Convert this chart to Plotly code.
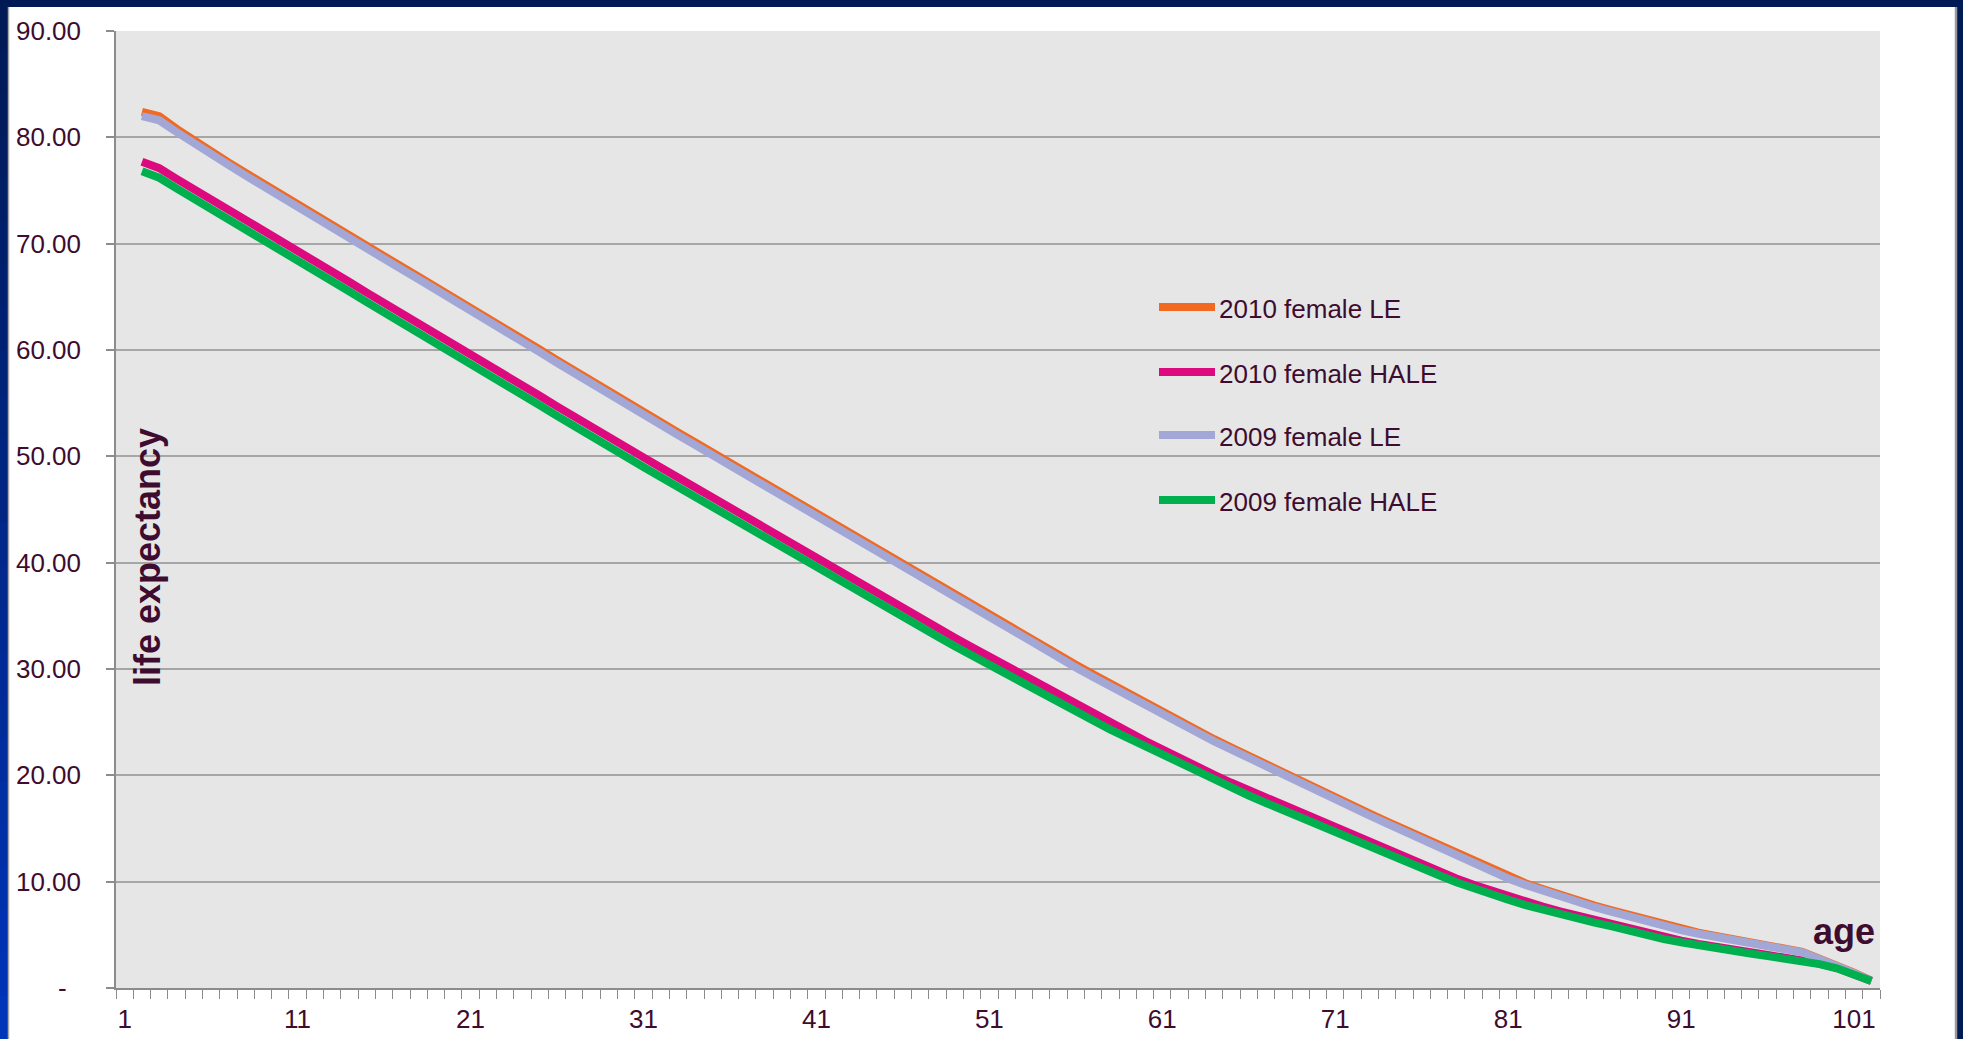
import plotly.graph_objects as go

# Age categories on the horizontal axis (labels 1..102); the series start at category 2
CATEGORIES = list(range(1, 103))
X_TICK_LABELS = [1, 11, 21, 31, 41, 51, 61, 71, 81, 91, 101]

Y_TICKS = [0, 10, 20, 30, 40, 50, 60, 70, 80, 90]
Y_TICK_TEXT = ["-\u00a0\u00a0", "10.00", "20.00", "30.00", "40.00", "50.00",
               "60.00", "70.00", "80.00", "90.00"]

SERIES_NAMES = ["2010 female LE", "2010 female HALE", "2009 female LE", "2009 female HALE"]
SERIES_COLORS = ["#F26A21", "#DC0A7E", "#A2A7D6", "#00B04F"]

LE_2010 = [
    82.4, 82.0, 80.8, 79.7, 78.65, 77.65, 76.65, 75.65, 74.7, 73.7,
    72.7, 71.75, 70.75, 69.8, 68.85, 67.85, 66.9, 65.95, 65.0, 64.05,
    63.05, 62.05, 61.05, 60.05, 59.05, 58.05, 57.05, 56.1, 55.15, 54.2,
    53.25, 52.25, 51.3, 50.35, 49.35, 48.4, 47.4, 46.45, 45.45, 44.5,
    43.55, 42.55, 41.6, 40.65, 39.7, 38.75, 37.8, 36.85, 35.9, 34.95,
    34.0, 33.1, 32.2, 31.3, 30.4, 29.5, 28.6, 27.7, 26.85, 26.0,
    25.1, 24.25, 23.4, 22.6, 21.8, 21.0, 20.2, 19.45, 18.7, 17.9,
    17.15, 16.4, 15.65, 14.9, 14.15, 13.4, 12.65, 11.9, 11.15, 10.45,
    9.85, 9.3, 8.75, 8.25, 7.75, 7.3, 6.85, 6.4, 5.95, 5.55,
    5.2, 4.9, 4.6, 4.3, 4.0, 3.75, 3.4, 2.75, 2.15, 1.45,
    0.7,
]

HALE_2010 = [
    77.7, 77.1, 76.1, 75.15, 74.2, 73.2, 72.2, 71.25, 70.3, 69.3,
    68.35, 67.4, 66.4, 65.4, 64.45, 63.5, 62.5, 61.55, 60.6, 59.6,
    58.65, 57.7, 56.7, 55.7, 54.7, 53.7, 52.75, 51.8, 50.85, 49.9,
    48.95, 48.0, 47.05, 46.1, 45.15, 44.2, 43.25, 42.3, 41.35, 40.4,
    39.4, 38.45, 37.5, 36.6, 35.7, 34.8, 33.9, 32.95, 32.05, 31.15,
    30.25, 29.35, 28.45, 27.6, 26.7, 25.8, 24.95, 24.1, 23.25, 22.45,
    21.6, 20.8, 20.05, 19.3, 18.6, 17.9, 17.2, 16.45, 15.75, 15.05,
    14.4, 13.75, 13.1, 12.4, 11.7, 11.0, 10.3, 9.7, 9.15, 8.6,
    8.1, 7.65, 7.2, 6.8, 6.4, 6.0, 5.55, 5.15, 4.75, 4.45,
    4.15, 3.85, 3.6, 3.35, 3.1, 2.85, 2.6, 2.3, 1.9, 1.3,
    0.65,
]

LE_2009 = [
    82.0, 81.6, 80.5, 79.4, 78.4, 77.4, 76.4, 75.4, 74.45, 73.45,
    72.45, 71.5, 70.5, 69.55, 68.6, 67.6, 66.65, 65.7, 64.75, 63.8,
    62.8, 61.8, 60.8, 59.8, 58.8, 57.8, 56.8, 55.85, 54.9, 53.95,
    53.0, 52.0, 51.05, 50.1, 49.1, 48.15, 47.15, 46.2, 45.2, 44.25,
    43.3, 42.3, 41.35, 40.4, 39.45, 38.5, 37.55, 36.6, 35.65, 34.7,
    33.75, 32.85, 31.95, 31.05, 30.15, 29.25, 28.35, 27.45, 26.6, 25.75,
    24.9, 24.05, 23.2, 22.4, 21.6, 20.8, 20.0, 19.25, 18.5, 17.7,
    16.95, 16.2, 15.45, 14.7, 13.95, 13.2, 12.45, 11.7, 10.95, 10.3,
    9.7, 9.15, 8.6, 8.1, 7.6, 7.15, 6.7, 6.3, 5.85, 5.45,
    5.1, 4.8, 4.5, 4.2, 3.95, 3.7, 3.35, 2.7, 2.1, 1.4,
    0.65,
]

HALE_2009 = [
    76.8, 76.2, 75.2, 74.25, 73.3, 72.3, 71.3, 70.35, 69.4, 68.4,
    67.45, 66.5, 65.5, 64.5, 63.55, 62.6, 61.6, 60.65, 59.7, 58.7,
    57.75, 56.8, 55.8, 54.8, 53.8, 52.8, 51.85, 50.9, 49.95, 49.0,
    48.05, 47.1, 46.15, 45.2, 44.25, 43.3, 42.35, 41.4, 40.45, 39.5,
    38.55, 37.6, 36.65, 35.75, 34.85, 33.95, 33.05, 32.15, 31.25, 30.35,
    29.45, 28.55, 27.7, 26.85, 26.0, 25.15, 24.3, 23.5, 22.7, 21.9,
    21.1, 20.3, 19.55, 18.8, 18.1, 17.4, 16.7, 16.0, 15.3, 14.6,
    13.95, 13.3, 12.65, 12.0, 11.3, 10.6, 9.95, 9.35, 8.8, 8.3,
    7.8, 7.35, 6.95, 6.55, 6.15, 5.8, 5.35, 4.95, 4.6, 4.3,
    4.0, 3.75, 3.5, 3.25, 3.0, 2.8, 2.55, 2.25, 1.85, 1.3,
    0.65,
]

SERIES_VALUES = [LE_2010, HALE_2010, LE_2009, HALE_2009]
for vals in SERIES_VALUES:
    assert len(vals) == len(CATEGORIES) - 1

TEXT_COLOR = "#3D0C2E"
FONT = "Liberation Sans, Arial, sans-serif"

W, H = 1963, 1039
M_L, M_R, M_T, M_B = 116, 83, 31, 51
PW, PH = W - M_L - M_R, H - M_T - M_B


def px_x(px):
    """page pixel x -> paper coordinate"""
    return (px - M_L) / PW


def px_y(py):
    """page pixel y (from top) -> paper coordinate"""
    return (H - M_B - py) / PH


fig = go.Figure()

x_vals = CATEGORIES[1:]
for name, color, vals in zip(SERIES_NAMES, SERIES_COLORS, SERIES_VALUES):
    fig.add_trace(go.Scatter(
        x=x_vals, y=vals, name=name, mode="lines",
        line=dict(color=color, width=8),
        showlegend=False,
    ))

shapes = []
annotations = []

# slide frame around the white chart area
NAVY = "#001A55"
shapes.append(dict(type="rect", xref="paper", yref="paper",
                   x0=px_x(0), x1=px_x(W), y0=px_y(7), y1=px_y(0),
                   fillcolor=NAVY, line_width=0, layer="below"))
shapes.append(dict(type="rect", xref="paper", yref="paper",
                   x0=px_x(1957), x1=px_x(W), y0=px_y(H), y1=px_y(0),
                   fillcolor=NAVY, line_width=0, layer="below"))
# left strip fades from navy to bright blue towards the bottom
n_steps = 24
for i in range(n_steps):
    t = i / (n_steps - 1)
    g = int(26 + (52 - 26) * t)
    b = int(85 + (185 - 85) * t)
    y_top = 7 + (H - 7) * i / n_steps
    y_bot = 7 + (H - 7) * (i + 1) / n_steps
    shapes.append(dict(type="rect", xref="paper", yref="paper",
                       x0=px_x(0), x1=px_x(8), y0=px_y(y_bot + 1), y1=px_y(y_top),
                       fillcolor=f"rgb(0,{g},{b})", line_width=0, layer="below"))
# thin grey edges of the white panel
shapes.append(dict(type="line", xref="paper", yref="paper",
                   x0=px_x(8.5), x1=px_x(8.5), y0=px_y(H), y1=px_y(7),
                   line=dict(color="#A8A8A8", width=1.5), layer="below"))
shapes.append(dict(type="line", xref="paper", yref="paper",
                   x0=px_x(1956), x1=px_x(1956), y0=px_y(H), y1=px_y(7),
                   line=dict(color="#9A9A9A", width=2.5), layer="below"))

# legend drawn as line samples with labels
legend_rows = [307, 372, 435, 500]
for name, color, row in zip(SERIES_NAMES, SERIES_COLORS, legend_rows):
    shapes.append(dict(type="line", xref="paper", yref="paper",
                       x0=px_x(1159), x1=px_x(1215), y0=px_y(row), y1=px_y(row),
                       line=dict(color=color, width=8), layer="above"))
    annotations.append(dict(xref="paper", yref="paper", x=px_x(1217), y=px_y(row + 2),
                            xanchor="left", yanchor="middle", showarrow=False,
                            text=name, font=dict(family=FONT, size=26, color=TEXT_COLOR)))

# axis titles placed inside the plotting area
annotations.append(dict(xref="paper", yref="paper", x=px_x(147), y=px_y(557),
                        xanchor="center", yanchor="middle", showarrow=False,
                        textangle=-90, text="<b>life expectancy</b>",
                        font=dict(family=FONT, size=36, color=TEXT_COLOR)))
annotations.append(dict(xref="paper", yref="paper", x=px_x(1877), y=px_y(931),
                        xanchor="right", yanchor="middle", showarrow=False,
                        text="<b>age</b>",
                        font=dict(family=FONT, size=36, color=TEXT_COLOR)))

fig.update_layout(
    width=W, height=H,
    margin=dict(l=M_L, r=M_R, t=M_T, b=M_B, pad=0, autoexpand=False),
    paper_bgcolor="white",
    plot_bgcolor="#E6E6E6",
    font=dict(family=FONT, size=26, color=TEXT_COLOR),
    shapes=shapes,
    annotations=annotations,
    showlegend=False,
)

fig.update_xaxes(
    range=[0.5, 102.5], automargin=False,
    tickmode="array", tickvals=X_TICK_LABELS, ticktext=[str(v) for v in X_TICK_LABELS],
    ticks="", showgrid=False, zeroline=False,
    showline=True, linecolor="#8C8C8C", linewidth=1.5,
    ticklabelstandoff=7,
    tickfont=dict(family=FONT, size=26, color=TEXT_COLOR),
    minor=dict(tickmode="linear", tick0=0.5, dtick=1, ticks="outside",
               ticklen=9, tickwidth=1.2, tickcolor="#8C8C8C", showgrid=False),
)

fig.update_yaxes(
    range=[0, 90], automargin=False,
    tickmode="array", tickvals=Y_TICKS, ticktext=Y_TICK_TEXT,
    ticks="outside", ticklen=8, tickwidth=1.5, tickcolor="#8C8C8C",
    showgrid=True, gridcolor="#A6A6A6", gridwidth=2,
    zeroline=False,
    showline=True, linecolor="#8C8C8C", linewidth=1.5,
    ticklabelstandoff=20,
    tickfont=dict(family=FONT, size=26, color=TEXT_COLOR),
)

fig.write_html("out.html")
